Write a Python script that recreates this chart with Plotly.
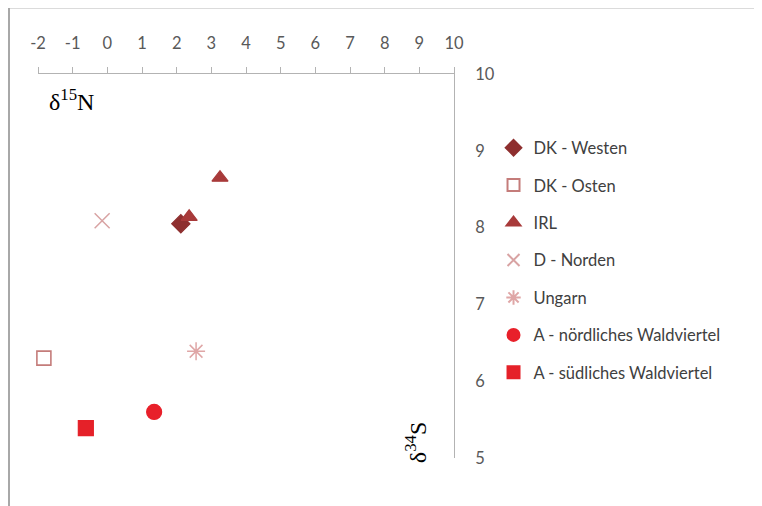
import plotly.graph_objects as go

# Data
series_names = ["DK - Westen", "DK - Osten", "IRL", "D - Norden", "Ungarn",
                "A - nördliches Waldviertel", "A - südliches Waldviertel"]
dk_westen_x = [2.12]
dk_westen_y = [8.05]
dk_osten_x = [-1.83]
dk_osten_y = [6.30]
irl_x = [3.25, 2.36]
irl_y = [8.65, 8.14]
d_norden_x = [-0.15]
d_norden_y = [8.09]
ungarn_x = [2.56]
ungarn_y = [6.39]
a_nord_x = [1.35]
a_nord_y = [5.60]
a_sued_x = [-0.62]
a_sued_y = [5.39]

x_ticks = list(range(-2, 11))
y_ticks = list(range(5, 11))

fig = go.Figure()

def add(name, xs, ys, symbol, color, size, lw=1.2):
    fig.add_trace(go.Scatter(
        x=xs, y=ys, mode="markers", name=name, legendgroup=name,
        cliponaxis=False,
        marker=dict(symbol=symbol, color=color, size=size,
                    line=dict(color=color, width=lw)),
    ))

add(series_names[0], dk_westen_x, dk_westen_y, "diamond", "#8E2F2F", 14)
add(series_names[1], dk_osten_x, dk_osten_y, "square-open", "#C47C7A", 14, 1.6)
add(series_names[2], irl_x, irl_y, "triangle-up", "#A83A3A", 14)
add(series_names[3], d_norden_x, d_norden_y, "x-thin-open", "#D8A3A3", 15, 1.5)
add(series_names[4], ungarn_x, ungarn_y, "asterisk-open", "#DFA6A6", 15, 1.5)
add(series_names[5], a_nord_x, a_nord_y, "circle", "#E8202A", 15)
add(series_names[6], a_sued_x, a_sued_y, "square", "#E52129", 15)

axis_color = "#B3B3B3"
tick_font = dict(family="Lato, Open Sans, sans-serif", size=16.5, color="#595959")

# the page body adds 8px of offset, so margins are reduced by 8 on left/top
fig.update_layout(
    width=762, height=506,
    margin=dict(l=30, r=316, t=66, b=56),
    paper_bgcolor="white", plot_bgcolor="white",
    showlegend=True,
    legend=dict(x=1.095, y=0.853, xanchor="left", yanchor="top",
                font=dict(family="Lato, Open Sans, sans-serif", size=16.5, color="#404040"),
                traceorder="grouped", tracegroupgap=13, itemwidth=30,
                itemsizing="constant",
                bgcolor="rgba(0,0,0,0)"),
    xaxis=dict(range=[-2, 10], side="top", tickmode="array", tickvals=x_ticks,
               ticktext=[str(v) for v in x_ticks],
               showgrid=False, zeroline=False, showline=True, linecolor=axis_color,
               linewidth=1, ticks="outside", ticklen=6, tickcolor=axis_color,
               ticklabelstandoff=11, tickfont=tick_font),
    yaxis=dict(range=[5, 10], side="right", tickmode="array", tickvals=y_ticks,
               ticktext=[str(v) for v in y_ticks],
               showgrid=False, zeroline=False, showline=True, linecolor=axis_color,
               linewidth=1, ticks="", ticklabelstandoff=17, tickfont=tick_font),
    annotations=[
        dict(text="δ<sup>15</sup>N", xref="paper", yref="paper", x=0.022, y=0.932,
             xanchor="left", yanchor="middle", showarrow=False,
             font=dict(family="Liberation Serif, DejaVu Serif, serif", size=24, color="#000000")),
        dict(text="δ<sup>34</sup>S", xref="paper", yref="paper", x=0.909, y=0.039,
             xanchor="center", yanchor="middle", showarrow=False, textangle=-90,
             font=dict(family="Liberation Serif, DejaVu Serif, serif", size=24, color="#000000")),
    ],
    shapes=[
        dict(type="line", xref="paper", yref="paper", x0=-0.0697, x1=1.75, y0=1.1719, y1=1.1719,
             line=dict(color="#B5B5B5", width=1)),
        dict(type="line", xref="paper", yref="paper", x0=-0.0697, x1=-0.0697, y0=1.1719, y1=-0.15,
             line=dict(color="#A8A8A8", width=2)),
    ],
)

fig.write_html("out.html")
